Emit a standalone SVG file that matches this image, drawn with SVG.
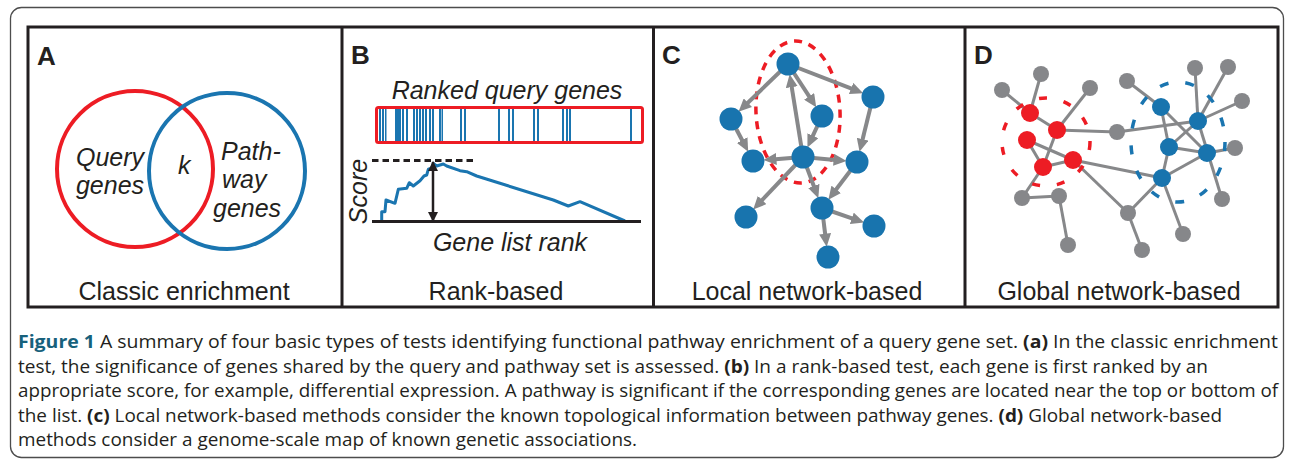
<svg xmlns="http://www.w3.org/2000/svg" width="1290" height="467" viewBox="0 0 1290 467">
<defs>
<style>
.frame{fill:none;stroke:#4d4d4d;stroke-width:1.3}
.pb{fill:none;stroke:#231f20;stroke-width:3}
.lbl{font-family:"Liberation Sans",Arial,sans-serif;font-weight:bold;font-size:26px;fill:#231f20}
.ttl{font-family:"Liberation Sans",Arial,sans-serif;font-size:25px;fill:#231f20;text-anchor:middle}
.it{font-family:"Liberation Sans",Arial,sans-serif;font-style:italic;font-size:25px;fill:#231f20}
.cap{font-family:"Open Sans","Noto Sans",sans-serif;font-size:18.5px;fill:#231f20}
.b{font-weight:bold}
.bar{fill:#1a75b0}
.carr{stroke:#87888a;stroke-width:4;fill:none;marker-end:url(#arr)}
.ge{stroke:#87888a;stroke-width:3}
.bn{fill:#1874ae}
.rn{fill:#ed1c24}
.gn{fill:#86878a}
</style>
<marker id="arr" markerUnits="userSpaceOnUse" markerWidth="13" markerHeight="12" refX="4" refY="6" orient="auto">
<path d="M0,0 L13,6 L0,12 z" fill="#87888a"/>
</marker>
<marker id="bk" markerUnits="userSpaceOnUse" markerWidth="10" markerHeight="10" refX="9" refY="5" orient="auto">
<path d="M0,0 L10,5 L0,10 z" fill="#231f20"/>
</marker>
</defs>
<rect width="1290" height="467" fill="#ffffff"/>
<rect class="frame" x="10.5" y="7.5" width="1273" height="450" rx="11"/>

<g id="panel-borders">
<rect class="pb" x="28" y="27" width="1250" height="280"/>
<line class="pb" x1="342" y1="27" x2="342" y2="307"/>
<line class="pb" x1="653.5" y1="27" x2="653.5" y2="307"/>
<line class="pb" x1="965" y1="27" x2="965" y2="307"/>
</g>

<g id="panelA">
<text class="lbl" x="37" y="65">A</text>
<circle cx="135" cy="169" r="78" fill="none" stroke="#ed1c24" stroke-width="4"/>
<circle cx="227" cy="171" r="78" fill="none" stroke="#1a75b0" stroke-width="4"/>
<text class="it" x="110" y="166" text-anchor="middle">Query</text>
<text class="it" x="110" y="194" text-anchor="middle">genes</text>
<text class="it" x="178" y="174">k</text>
<text class="it" x="221" y="160">Path-</text>
<text class="it" x="222" y="188">way</text>
<text class="it" x="213" y="217">genes</text>
<text class="ttl" x="184" y="300">Classic enrichment</text>
</g>

<g id="panelB">
<text class="lbl" x="351" y="64">B</text>
<text class="it" x="507" y="99" text-anchor="middle">Ranked query genes</text>
<g id="bars">
<rect class="bar" x="379" y="109" width="2" height="32"/>
<rect class="bar" x="382" y="109" width="2" height="32"/>
<rect class="bar" x="385" y="109" width="1.5" height="32"/>
<rect class="bar" x="395" y="109" width="6" height="32"/>
<rect class="bar" x="402" y="109" width="2" height="32"/>
<rect class="bar" x="406" y="109" width="2" height="32"/>
<rect class="bar" x="413" y="109" width="2" height="32"/>
<rect class="bar" x="416" y="109" width="2" height="32"/>
<rect class="bar" x="419" y="109" width="2" height="32"/>
<rect class="bar" x="422" y="109" width="2" height="32"/>
<rect class="bar" x="425" y="109" width="2" height="32"/>
<rect class="bar" x="429" y="109" width="2" height="32"/>
<rect class="bar" x="432" y="109" width="2" height="32"/>
<rect class="bar" x="439" y="109" width="2" height="32"/>
<rect class="bar" x="441.5" y="109" width="1.5" height="32"/>
<rect class="bar" x="460" y="109" width="2" height="32"/>
<rect class="bar" x="464" y="109" width="2" height="32"/>
<rect class="bar" x="498" y="109" width="2" height="32"/>
<rect class="bar" x="508" y="109" width="2" height="32"/>
<rect class="bar" x="512" y="109" width="2" height="32"/>
<rect class="bar" x="533" y="109" width="2" height="32"/>
<rect class="bar" x="537" y="109" width="2" height="32"/>
<rect class="bar" x="562" y="109" width="2" height="32"/>
<rect class="bar" x="566" y="109" width="2" height="32"/>
<rect class="bar" x="569" y="109" width="2" height="32"/>
<rect class="bar" x="630" y="109" width="2" height="32"/>
</g>
<rect x="376.5" y="107.5" width="266" height="35" rx="2" fill="none" stroke="#ed1c24" stroke-width="3"/>
<line x1="372" y1="160.5" x2="473" y2="160.5" stroke="#231f20" stroke-width="3" stroke-dasharray="6.5 4"/>
<polyline fill="none" stroke="#1a75b0" stroke-width="3" stroke-linejoin="round" points="381.7,221 381.7,211.7 385,211.7 386,200 395,203.3 398.3,189.3 406.7,188.3 409.3,182.7 413.3,186 420,180.7 424,176 426.7,175 428.3,169.3 431.7,168.3 433.3,163.3 436.7,166 443.3,164 446.7,166 460,170.7 466.7,171.7 476.7,176 553.3,200 568.3,206 580,201.7 625,221"/>
<line x1="372" y1="221.5" x2="641" y2="221.5" stroke="#231f20" stroke-width="3"/>
<line x1="433" y1="190" x2="433" y2="162" stroke="#231f20" stroke-width="2.5" marker-end="url(#bk)"/>
<line x1="433" y1="190" x2="433" y2="221" stroke="#231f20" stroke-width="2.5" marker-end="url(#bk)"/>
<text class="it" transform="translate(367,191.5) rotate(-90)" text-anchor="middle" font-size="24">Score</text>
<text class="it" x="510" y="251" text-anchor="middle">Gene list rank</text>
<text class="ttl" x="496" y="300">Rank-based</text>
</g>

<g id="panelC">
<text class="lbl" x="662" y="64">C</text>
<ellipse cx="798" cy="112" rx="42" ry="71" fill="none" stroke="#ed1c24" stroke-width="3.5" stroke-dasharray="8 7" transform="rotate(-3 798 112)"/>
<g id="connectorsC">
<line class="carr" x1="788" y1="64" x2="745.0" y2="105.5"/>
<line class="carr" x1="788" y1="64" x2="854.8" y2="89.9"/>
<line class="carr" x1="788" y1="64" x2="811.3" y2="99.7"/>
<line class="carr" x1="803" y1="157" x2="791.1" y2="83.2"/>
<line class="carr" x1="731" y1="119" x2="744.0" y2="143.7"/>
<line class="carr" x1="822" y1="116" x2="811.2" y2="139.3"/>
<line class="carr" x1="873" y1="97" x2="861.7" y2="143.1"/>
<line class="carr" x1="803" y1="157" x2="772.4" y2="159.4"/>
<line class="carr" x1="803" y1="157" x2="837.6" y2="160.2"/>
<line class="carr" x1="803" y1="157" x2="759.4" y2="202.9"/>
<line class="carr" x1="803" y1="157" x2="815.2" y2="189.7"/>
<line class="carr" x1="857" y1="162" x2="833.8" y2="192.5"/>
<line class="carr" x1="822" y1="208" x2="855.6" y2="219.6"/>
<line class="carr" x1="822" y1="208" x2="825.6" y2="237.7"/>
</g>
<g id="c1"><circle class="bn" cx="788" cy="64" r="11.5"/></g>
<g id="c2"><circle class="bn" cx="873" cy="97" r="11.5"/></g>
<g id="c3"><circle class="bn" cx="731" cy="119" r="11.5"/></g>
<g id="c4"><circle class="bn" cx="822" cy="116" r="11.5"/></g>
<g id="c5"><circle class="bn" cx="753" cy="161" r="11.5"/></g>
<g id="c6"><circle class="bn" cx="803" cy="157" r="11.5"/></g>
<g id="c7"><circle class="bn" cx="857" cy="162" r="11.5"/></g>
<g id="c8"><circle class="bn" cx="746" cy="217" r="11.5"/></g>
<g id="c9"><circle class="bn" cx="822" cy="208" r="11.5"/></g>
<g id="c10"><circle class="bn" cx="874" cy="226" r="11.5"/></g>
<g id="c11"><circle class="bn" cx="828" cy="257" r="11.5"/></g>
<text class="ttl" x="807" y="300">Local network-based</text>
</g>

<g id="panelD">
<text class="lbl" x="974" y="64">D</text>
<g id="connectorsD">
<line class="ge" x1="1002" y1="90" x2="1030" y2="113"/>
<line class="ge" x1="1041" y1="74" x2="1030" y2="113"/>
<line class="ge" x1="1030" y1="113" x2="1057" y2="130"/>
<line class="ge" x1="1090" y1="88" x2="1057" y2="130"/>
<line class="ge" x1="1057" y1="130" x2="1117" y2="132"/>
<line class="ge" x1="1057" y1="130" x2="1043" y2="167"/>
<line class="ge" x1="1027" y1="140" x2="1043" y2="167"/>
<line class="ge" x1="1027" y1="140" x2="1073" y2="160"/>
<line class="ge" x1="1043" y1="167" x2="1073" y2="160"/>
<line class="ge" x1="1073" y1="160" x2="1128" y2="213"/>
<line class="ge" x1="1073" y1="160" x2="1162" y2="178"/>
<line class="ge" x1="1043" y1="167" x2="1022" y2="198"/>
<line class="ge" x1="1022" y1="198" x2="1059" y2="196"/>
<line class="ge" x1="1059" y1="196" x2="1068" y2="245"/>
<line class="ge" x1="1128" y1="213" x2="1142" y2="250"/>
<line class="ge" x1="1128" y1="213" x2="1162" y2="178"/>
<line class="ge" x1="1117" y1="132" x2="1198" y2="121"/>
<line class="ge" x1="1127" y1="81" x2="1161" y2="107"/>
<line class="ge" x1="1161" y1="107" x2="1207" y2="153"/>
<line class="ge" x1="1161" y1="107" x2="1169" y2="147"/>
<line class="ge" x1="1198" y1="121" x2="1169" y2="147"/>
<line class="ge" x1="1198" y1="121" x2="1195" y2="68"/>
<line class="ge" x1="1198" y1="121" x2="1228" y2="67"/>
<line class="ge" x1="1198" y1="121" x2="1242" y2="101"/>
<line class="ge" x1="1198" y1="121" x2="1222" y2="199"/>
<line class="ge" x1="1169" y1="147" x2="1207" y2="153"/>
<line class="ge" x1="1169" y1="147" x2="1162" y2="178"/>
<line class="ge" x1="1207" y1="153" x2="1162" y2="178"/>
<line class="ge" x1="1207" y1="153" x2="1235" y2="148"/>
<line class="ge" x1="1162" y1="178" x2="1183" y2="234"/>
</g>
<circle cx="1046" cy="142" r="44" fill="none" stroke="#ed1c24" stroke-width="3.5" stroke-dasharray="8 17"/>
<ellipse cx="1178" cy="142" rx="47" ry="60" fill="none" stroke="#1a75b0" stroke-width="3.5" stroke-dasharray="9 17"/>
<g id="g1"><circle class="gn" cx="1041" cy="74" r="8"/></g>
<g id="g2"><circle class="gn" cx="1002" cy="90" r="8"/></g>
<g id="g3"><circle class="gn" cx="1090" cy="88" r="8"/></g>
<g id="g4"><circle class="gn" cx="1117" cy="132" r="8"/></g>
<g id="g5"><circle class="gn" cx="1022" cy="198" r="8"/></g>
<g id="g6"><circle class="gn" cx="1059" cy="196" r="8"/></g>
<g id="g7"><circle class="gn" cx="1068" cy="245" r="8"/></g>
<g id="g8"><circle class="gn" cx="1128" cy="213" r="8"/></g>
<g id="g9"><circle class="gn" cx="1142" cy="250" r="8"/></g>
<g id="g10"><circle class="gn" cx="1127" cy="81" r="8"/></g>
<g id="g11"><circle class="gn" cx="1195" cy="68" r="8"/></g>
<g id="g12"><circle class="gn" cx="1228" cy="67" r="8"/></g>
<g id="g13"><circle class="gn" cx="1242" cy="101" r="8"/></g>
<g id="g14"><circle class="gn" cx="1235" cy="148" r="8"/></g>
<g id="g15"><circle class="gn" cx="1222" cy="199" r="8"/></g>
<g id="g16"><circle class="gn" cx="1183" cy="234" r="8"/></g>
<g id="r1"><circle class="rn" cx="1030" cy="113" r="9"/></g>
<g id="r2"><circle class="rn" cx="1057" cy="130" r="9"/></g>
<g id="r3"><circle class="rn" cx="1027" cy="140" r="9"/></g>
<g id="r4"><circle class="rn" cx="1043" cy="167" r="9"/></g>
<g id="r5"><circle class="rn" cx="1073" cy="160" r="9"/></g>
<g id="b1"><circle class="bn" cx="1161" cy="107" r="9"/></g>
<g id="b2"><circle class="bn" cx="1198" cy="121" r="9"/></g>
<g id="b3"><circle class="bn" cx="1169" cy="147" r="9"/></g>
<g id="b4"><circle class="bn" cx="1207" cy="153" r="9"/></g>
<g id="b5"><circle class="bn" cx="1162" cy="178" r="9"/></g>
<text class="ttl" x="1119" y="300">Global network-based</text>
</g>

<g id="caption" class="cap">
<text x="18" y="348" textLength="1260" lengthAdjust="spacingAndGlyphs"><tspan class="b" fill="#17617c">Figure 1</tspan> A summary of four basic types of tests identifying functional pathway enrichment of a query gene set. <tspan class="b">(a)</tspan> In the classic enrichment</text>
<text x="18" y="372.5" textLength="1190" lengthAdjust="spacingAndGlyphs">test, the significance of genes shared by the query and pathway set is assessed. <tspan class="b">(b)</tspan> In a rank-based test, each gene is first ranked by an</text>
<text x="18" y="397" textLength="1260" lengthAdjust="spacingAndGlyphs">appropriate score, for example, differential expression. A pathway is significant if the corresponding genes are located near the top or bottom of</text>
<text x="18" y="421.5" textLength="1204" lengthAdjust="spacingAndGlyphs">the list. <tspan class="b">(c)</tspan> Local network-based methods consider the known topological information between pathway genes. <tspan class="b">(d)</tspan> Global network-based</text>
<text x="18" y="446" textLength="619" lengthAdjust="spacingAndGlyphs">methods consider a genome-scale map of known genetic associations.</text>
</g>
</svg>
